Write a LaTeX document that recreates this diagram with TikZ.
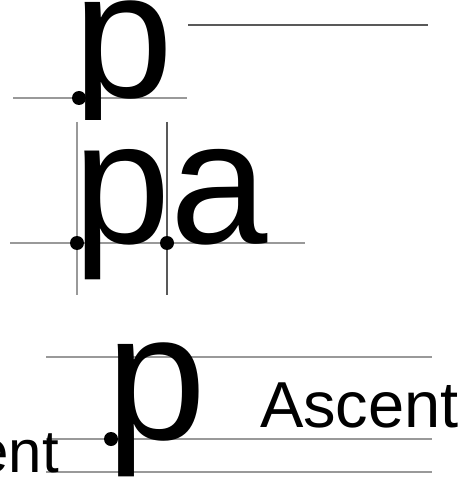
\documentclass[tikz,border=0pt]{standalone}
\usepackage{fontspec}
\setmainfont{Liberation Sans}
\begin{document}
\begin{tikzpicture}[x=1pt,y=-1pt,
  glyph/.style={anchor=base west,inner sep=0pt,outer sep=0pt,text=black},
  bigA/.style={font=\fontsize{175}{175}\selectfont},
  bigB/.style={font=\fontsize{180}{180}\selectfont},
  label/.style={font=\fontsize{65}{65}\selectfont},
  smalllabel/.style={font=\fontsize{60}{60}\selectfont},
  guide/.style={draw=black!40,line width=1.4pt},
  guidedark/.style={draw=black!65,line width=1.4pt},
  origin/.style={circle,fill=black,inner sep=0pt,minimum size=14pt}]
\useasboundingbox (0,0) rectangle (458,478);
\clip (0,0) rectangle (458,478);
% ---------- top panel ----------
\coordinate (t1) at (13,98);
\coordinate (t2) at (187,98);
\coordinate (t3) at (188,25);
\coordinate (t4) at (428,25);
\draw[guide] (t1) -- (t2);
\draw[guidedark] (t3) -- (t4);
\begin{scope}
  \clip (0,0) rectangle (458,120);
  \node[glyph,bigB] (ptop) at (73,98) {p};
\end{scope}
\node[origin] (dtop) at (79,98) {};
% ---------- middle panel ----------
\coordinate (m1) at (10,243);
\coordinate (m2) at (305,243);
\coordinate (v1a) at (77,122);
\coordinate (v1b) at (77,295);
\coordinate (v2a) at (167,122);
\coordinate (v2b) at (167,295);
\draw[guide] (m1) -- (m2);
\draw[guide] (v1a) -- (v1b);
\draw[guidedark,line width=1.2pt] (v2a) -- (v2b);
\node[glyph,bigA] (pmid) at (73.5,243) {p};
\node[glyph,bigA] (amid) at (170.5,243) {a};
\node[origin] (dm1) at (77,243) {};
\node[origin] (dm2) at (167,243) {};
% ---------- bottom panel ----------
\coordinate (b1) at (46,357);
\coordinate (b2) at (432,357);
\coordinate (b3) at (46,439);
\coordinate (b4) at (432,439);
\coordinate (b5) at (46,472);
\coordinate (b6) at (432,472);
\draw[guide] (b1) -- (b2);
\draw[guide] (b3) -- (b4);
\draw[guide] (b5) -- (b6);
\node[glyph,bigB] (pbot) at (106,439) {p};
\node[origin] (dbot) at (111,439) {};
\node[glyph,label] (asc) at (260,427) {Ascent};
\node[smalllabel,anchor=base east,inner sep=0pt,outer sep=0pt] (desc) at (59,472) {ent};
\end{tikzpicture}
\end{document}
